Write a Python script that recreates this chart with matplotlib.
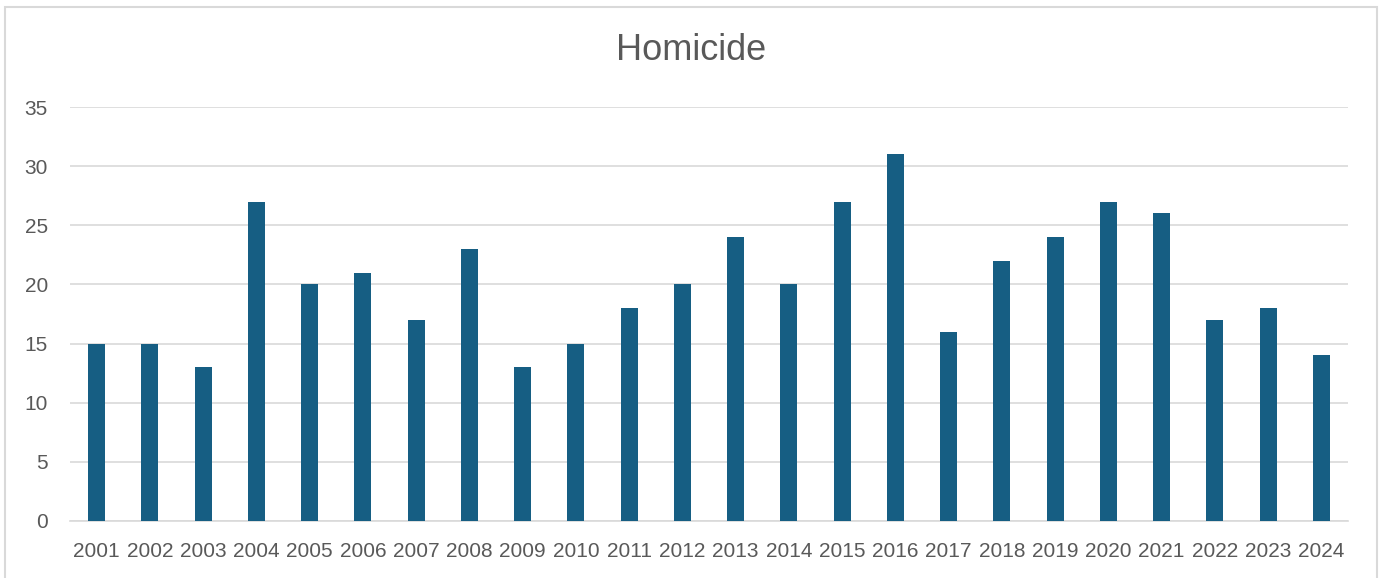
# Homicide counts per year, bar chart

import numpy as np
import matplotlib
matplotlib.use('Agg')
from matplotlib import pyplot as plt
import matplotlib.patches as patches

plt.rcParams['font.family'] = ['Liberation Sans', 'DejaVu Sans']

years = ['2001', '2002', '2003', '2004', '2005', '2006', '2007', '2008',
         '2009', '2010', '2011', '2012', '2013', '2014', '2015', '2016',
         '2017', '2018', '2019', '2020', '2021', '2022', '2023', '2024']
homicides = [15, 15, 13, 27, 20, 21, 17, 23, 13, 15, 18, 20, 24, 20,
             27, 31, 16, 22, 24, 27, 26, 17, 18, 14]
yticks = [0, 5, 10, 15, 20, 25, 30, 35]

bar_color = '#165E83'
text_color = '#595959'
grid_color = '#D9D9D9'

fig = plt.figure(figsize=(13.82, 5.78), dpi=100)

# outer chart border (Excel-style)
fig.patches.append(patches.Rectangle((5/1382, -0.02), 1372/1382, 1 - 7/578 + 0.02,
                                     transform=fig.transFigure, fill=False,
                                     edgecolor=grid_color, linewidth=1.5))

ax = fig.add_axes([70/1382, 1 - 521/578, 1278/1382, 414/578])

x = np.arange(len(years))
ax.bar(x, homicides, width=0.32, color=bar_color, zorder=3)

ax.set_xlim(-0.5, len(years) - 0.5)
ax.set_ylim(0, 35)
ax.set_yticks(yticks)
ax.set_xticks(x)
ax.set_xticklabels(years)

ax.grid(axis='y', color=grid_color, linewidth=1.2, zorder=0)
for s in ['top', 'right', 'left']:
    ax.spines[s].set_visible(False)
ax.spines['bottom'].set_color(grid_color)
ax.spines['bottom'].set_linewidth(1.2)

ax.tick_params(axis='both', length=0, labelsize=15, colors=text_color)
ax.tick_params(axis='x', pad=15)
ax.tick_params(axis='y', pad=16)

fig.text(691/1382, 1 - 51/578, 'Homicide', ha='center', va='center',
         fontsize=26, color=text_color)

plt.savefig('out.png', dpi=100)
